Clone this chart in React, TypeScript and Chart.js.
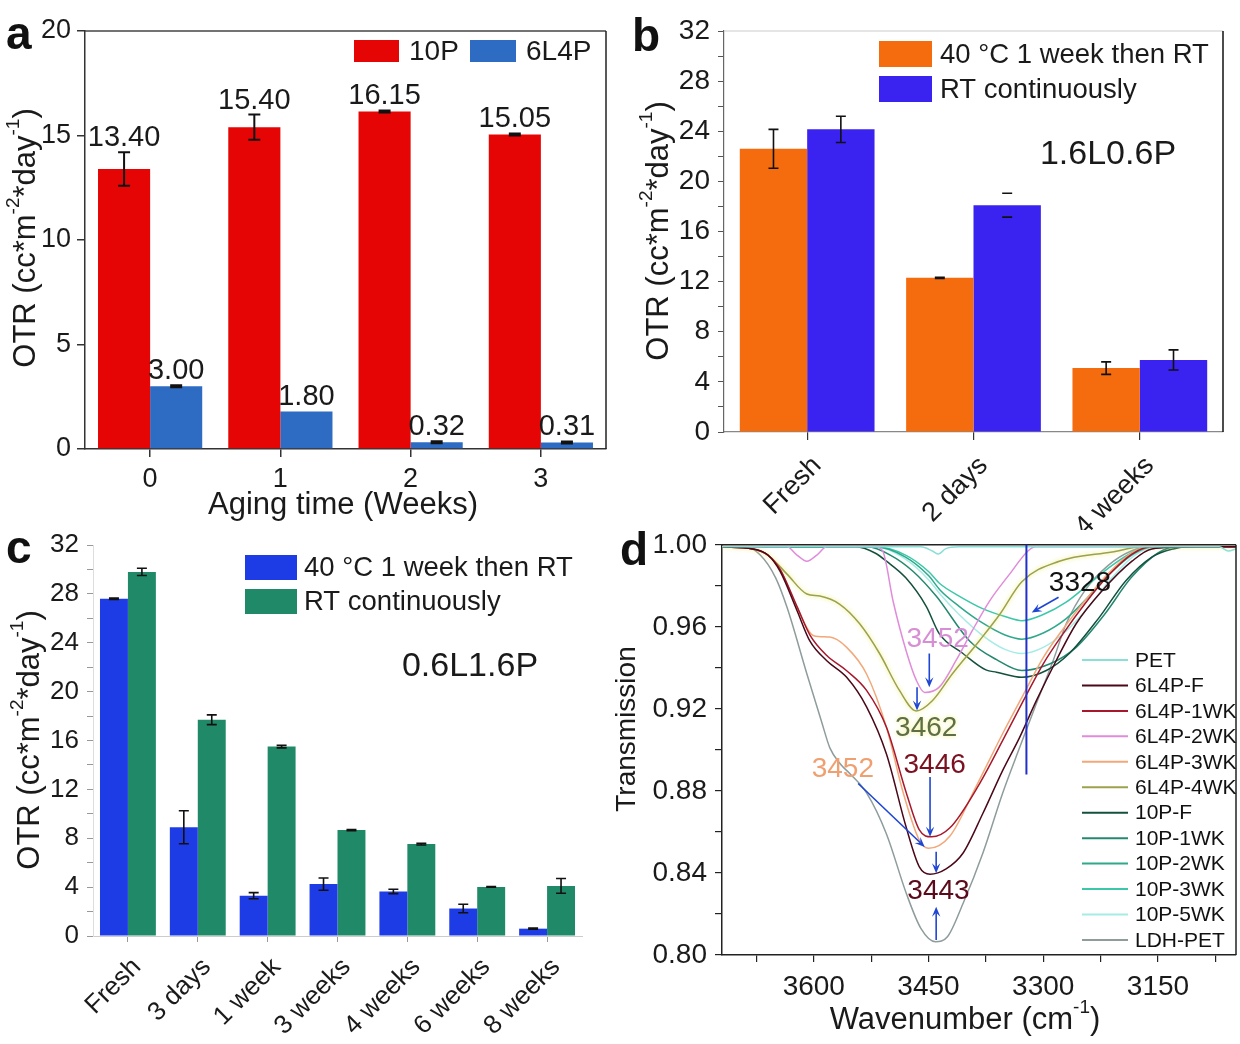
import React, { useEffect, useRef } from 'react';
import { Chart, registerables } from 'chart.js';
Chart.register(...registerables);

const FONT = "'Liberation Sans', Arial, Helvetica, sans-serif";
Chart.defaults.font.family = FONT;

// ---------- Panel a ----------
const A_CATS = ['0', '1', '2', '3'];
const A_10P = [13.4, 15.4, 16.15, 15.05];
const A_10P_ERR = [0.8, 0.6, 0.05, 0.05];
const A_6L4P = [3.0, 1.8, 0.32, 0.31];
const A_6L4P_ERR = [0.05, 0, 0.05, 0.05];

// ---------- Panel b ----------
const B_CATS = ['Fresh', '2 days', '4 weeks'];
const B_40C = [22.6, 12.3, 5.1];
const B_40C_ERR = [1.55, 0.05, 0.5];
const B_RT = [24.15, 18.1, 5.75];
const B_RT_ERR = [1.05, 0.95, 0.8];

// ---------- Panel c ----------
const C_CATS = ['Fresh', '3 days', '1 week', '3 weeks', '4 weeks', '6 weeks', '8 weeks'];
const C_40C = [27.6, 8.9, 3.3, 4.25, 3.65, 2.25, 0.6];
const C_40C_ERR = [0.05, 1.35, 0.25, 0.5, 0.18, 0.35, 0.05];
const C_RT = [29.8, 17.7, 15.5, 8.67, 7.52, 4.02, 4.1];
const C_RT_ERR = [0.3, 0.4, 0.1, 0.05, 0.07, 0.03, 0.6];

// ---------- Panel d (FTIR spectra) ----------
const D_XTICKS = [3675, 3600, 3525, 3450, 3375, 3300, 3225, 3150, 3075];
const D_YTICKS = [0.8, 0.82, 0.84, 0.86, 0.88, 0.9, 0.92, 0.94, 0.96, 0.98, 1.0];

const D_PET_WN = [3720, 3600, 3500, 3460, 3445, 3437, 3428, 3410, 3300, 3150, 3070, 3058, 3048];
const D_PET_T = [0.999, 0.999, 0.999, 0.999, 0.997, 0.9955, 0.998, 0.999, 0.999, 0.999, 0.999, 0.997, 0.998];

const D_6F_WN = [3720, 3680, 3660, 3644, 3622, 3605, 3583, 3557, 3531, 3505, 3479, 3462, 3448, 3427, 3405, 3379, 3353, 3331, 3309, 3283, 3257, 3223, 3184, 3158, 3100, 3048];
const D_6F_T = [0.999, 0.998, 0.995, 0.987, 0.968, 0.953, 0.9435, 0.9354, 0.921, 0.898, 0.862, 0.843, 0.8394, 0.842, 0.8496, 0.869, 0.89, 0.906, 0.924, 0.9436, 0.9615, 0.9776, 0.992, 0.998, 0.999, 0.999];

const D_61_WN = [3720, 3680, 3660, 3644, 3622, 3605, 3583, 3557, 3531, 3505, 3479, 3462, 3446, 3422, 3383, 3353, 3326, 3300, 3274, 3245, 3215, 3184, 3158, 3100, 3048];
const D_61_T = [0.999, 0.998, 0.995, 0.988, 0.97, 0.956, 0.946, 0.9386, 0.929, 0.911, 0.879, 0.861, 0.8576, 0.862, 0.8837, 0.9046, 0.924, 0.942, 0.9567, 0.9715, 0.985, 0.9955, 0.999, 0.999, 0.999];

const D_62_WN = [3720, 3660, 3635, 3622, 3609, 3596, 3583, 3560, 3520, 3510, 3496, 3479, 3466, 3455, 3436, 3414, 3393, 3370, 3344, 3320, 3310, 3250, 3100, 3048];
const D_62_T = [0.999, 0.999, 0.999, 0.995, 0.992, 0.995, 0.999, 0.999, 0.999, 0.997, 0.972, 0.948, 0.934, 0.928, 0.9306, 0.9436, 0.958, 0.9727, 0.9857, 0.997, 0.999, 0.999, 0.999, 0.999];

const D_63_WN = [3720, 3680, 3660, 3644, 3622, 3600, 3579, 3557, 3531, 3505, 3483, 3462, 3450, 3422, 3388, 3353, 3326, 3300, 3274, 3245, 3215, 3184, 3158, 3100, 3048];
const D_63_T = [0.999, 0.998, 0.995, 0.988, 0.9695, 0.9557, 0.955, 0.95, 0.937, 0.911, 0.879, 0.856, 0.852, 0.858, 0.882, 0.908, 0.927, 0.945, 0.959, 0.973, 0.986, 0.996, 0.999, 0.999, 0.999];

const D_64_WN = [3720, 3680, 3660, 3635, 3609, 3592, 3566, 3540, 3514, 3488, 3466, 3445, 3419, 3384, 3357, 3328, 3279, 3210, 3170, 3100, 3048];
const D_64_T = [0.999, 0.998, 0.995, 0.9857, 0.976, 0.975, 0.971, 0.9615, 0.947, 0.929, 0.919, 0.924, 0.937, 0.953, 0.966, 0.982, 0.992, 0.9965, 0.999, 0.999, 0.999];

const D_10F_WN = [3720, 3545, 3520, 3505, 3480, 3453, 3436, 3405, 3375, 3361, 3328, 3296, 3266, 3227, 3192, 3158, 3130, 3110, 3048];
const D_10F_T = [0.999, 0.999, 0.996, 0.992, 0.984, 0.97, 0.9567, 0.947, 0.939, 0.9379, 0.9354, 0.9387, 0.947, 0.9645, 0.9825, 0.994, 0.998, 0.999, 0.999];

const D_101_WN = [3720, 3530, 3500, 3470, 3440, 3396, 3361, 3328, 3291, 3257, 3220, 3185, 3150, 3125, 3048];
const D_101_T = [0.999, 0.999, 0.995, 0.987, 0.975, 0.953, 0.944, 0.9387, 0.942, 0.95, 0.966, 0.984, 0.996, 0.999, 0.999];

const D_102_WN = [3720, 3520, 3480, 3450, 3435, 3410, 3380, 3350, 3328, 3300, 3270, 3240, 3210, 3180, 3155, 3048];
const D_102_T = [0.999, 0.999, 0.994, 0.985, 0.978, 0.97, 0.962, 0.956, 0.954, 0.957, 0.964, 0.975, 0.987, 0.996, 0.999, 0.999];

const D_103_WN = [3720, 3520, 3480, 3450, 3435, 3410, 3380, 3350, 3328, 3300, 3270, 3240, 3210, 3180, 3160, 3048];
const D_103_T = [0.999, 0.999, 0.995, 0.987, 0.981, 0.975, 0.969, 0.965, 0.963, 0.966, 0.972, 0.981, 0.99, 0.997, 0.999, 0.999];

const D_105_WN = [3720, 3520, 3480, 3450, 3435, 3410, 3380, 3350, 3328, 3300, 3270, 3240, 3210, 3180, 3150, 3048];
const D_105_T = [0.999, 0.999, 0.993, 0.983, 0.976, 0.966, 0.956, 0.949, 0.947, 0.95, 0.958, 0.97, 0.984, 0.995, 0.999, 0.999];

const D_LDH_WN = [3720, 3690, 3670, 3650, 3635, 3609, 3590, 3579, 3565, 3553, 3531, 3505, 3479, 3460, 3441, 3425, 3405, 3379, 3353, 3331, 3309, 3287, 3270, 3245, 3215, 3185, 3160, 3100, 3048];
const D_LDH_T = [0.999, 0.999, 0.995, 0.984, 0.9695, 0.937, 0.914, 0.901, 0.893, 0.8885, 0.879, 0.859, 0.83, 0.813, 0.8065, 0.809, 0.825, 0.8496, 0.879, 0.901, 0.9226, 0.9436, 0.9615, 0.978, 0.99, 0.997, 0.999, 0.999, 0.999];

const D_LABELS = ['PET', '6L4P-F', '6L4P-1WK', '6L4P-2WK', '6L4P-3WK', '6L4P-4WK', '10P-F', '10P-1WK', '10P-2WK', '10P-3WK', '10P-5WK', 'LDH-PET'];
const D_WNS = [D_PET_WN, D_6F_WN, D_61_WN, D_62_WN, D_63_WN, D_64_WN, D_10F_WN, D_101_WN, D_102_WN, D_103_WN, D_105_WN, D_LDH_WN];
const D_TS = [D_PET_T, D_6F_T, D_61_T, D_62_T, D_63_T, D_64_T, D_10F_T, D_101_T, D_102_T, D_103_T, D_105_T, D_LDH_T];
const D_COLORS = ['#8ADFD6', '#4A0818', '#A8182C', '#E08CDA', '#F2A878', '#9CA24C', '#14503E', '#248870', '#2FA88C', '#3CC8A8', '#A6ECE6', '#8E9C9C'];

// ---------- helpers ----------
type Seg = { t: string; sup?: boolean };
const OTR_TITLE: Seg[] = [{ t: 'OTR (cc*m' }, { t: '-2', sup: true }, { t: '*day' }, { t: '-1', sup: true }, { t: ')' }];

function drawRich(ctx: CanvasRenderingContext2D, segs: Seg[], cx: number, cy: number, size: number, rotate: boolean, color = '#1a1a1a') {
  ctx.save();
  const main = `${size}px ${FONT}`;
  const small = `${Math.round(size * 0.62)}px ${FONT}`;
  let w = 0;
  for (const s of segs) {
    ctx.font = s.sup ? small : main;
    w += ctx.measureText(s.t).width;
  }
  ctx.translate(cx, cy);
  if (rotate) ctx.rotate(-Math.PI / 2);
  ctx.fillStyle = color;
  ctx.textBaseline = 'middle';
  ctx.textAlign = 'left';
  let x = -w / 2;
  for (const s of segs) {
    ctx.font = s.sup ? small : main;
    ctx.fillText(s.t, x, s.sup ? -size * 0.4 : 0);
    x += ctx.measureText(s.t).width;
  }
  ctx.restore();
}

function drawText(ctx: CanvasRenderingContext2D, t: string, x: number, y: number, font: string, color = '#1a1a1a', align: CanvasTextAlign = 'left', base: CanvasTextBaseline = 'middle') {
  ctx.save();
  ctx.font = font;
  ctx.fillStyle = color;
  ctx.textAlign = align;
  ctx.textBaseline = base;
  ctx.fillText(t, x, y);
  ctx.restore();
}

// capsOnly: list of [datasetIndex, pointIndex] whose error bar shows caps without a stem
function drawErrBars(chart: any, errs: number[][], cap: number, lw: number, capsOnly: number[][] = [], color = '#111') {
  const ctx = chart.ctx;
  const ys = chart.scales.y;
  ctx.save();
  ctx.strokeStyle = color;
  ctx.lineWidth = lw;
  errs.forEach((err, di) => {
    const meta = chart.getDatasetMeta(di);
    const data = chart.data.datasets[di].data as number[];
    meta.data.forEach((el: any, j: number) => {
      const e = err[j];
      if (!e) return;
      const x = el.x;
      const t = ys.getPixelForValue(data[j] + e);
      const b = ys.getPixelForValue(data[j] - e);
      const stem = !capsOnly.some((p) => p[0] === di && p[1] === j);
      ctx.beginPath();
      if (stem) {
        ctx.moveTo(x, t);
        ctx.lineTo(x, b);
      }
      ctx.moveTo(x - cap / 2, t);
      ctx.lineTo(x + cap / 2, t);
      ctx.moveTo(x - cap / 2, b);
      ctx.lineTo(x + cap / 2, b);
      ctx.stroke();
    });
  });
  ctx.restore();
}

function line(ctx: CanvasRenderingContext2D, x1: number, y1: number, x2: number, y2: number, color: string, lw: number) {
  ctx.save();
  ctx.strokeStyle = color;
  ctx.lineWidth = lw;
  ctx.beginPath();
  ctx.moveTo(x1, y1);
  ctx.lineTo(x2, y2);
  ctx.stroke();
  ctx.restore();
}

function arrow(ctx: CanvasRenderingContext2D, x1: number, y1: number, x2: number, y2: number, color: string, lw = 1.6, head = 10) {
  const a = Math.atan2(y2 - y1, x2 - x1);
  const c = Math.cos(a), s = Math.sin(a);
  ctx.save();
  ctx.strokeStyle = color;
  ctx.fillStyle = color;
  ctx.lineWidth = lw;
  ctx.beginPath();
  ctx.moveTo(x1, y1);
  ctx.lineTo(x2 - c * head * 0.6, y2 - s * head * 0.6);
  ctx.stroke();
  ctx.beginPath();
  ctx.moveTo(x2, y2);
  ctx.lineTo(x2 - head * c + head * 0.42 * s, y2 - head * s - head * 0.42 * c);
  ctx.lineTo(x2 - head * 0.6 * c, y2 - head * 0.6 * s);
  ctx.lineTo(x2 - head * c - head * 0.42 * s, y2 - head * s + head * 0.42 * c);
  ctx.closePath();
  ctx.fill();
  ctx.restore();
}

function ChartBox({ left, top, width, height, make }: { left: number; top: number; width: number; height: number; make: () => any }) {
  const ref = useRef<HTMLCanvasElement>(null);
  useEffect(() => {
    const chart = new Chart(ref.current as HTMLCanvasElement, make());
    return () => chart.destroy();
  }, []);
  return (
    <div style={{ position: 'absolute', left, top, width, height }}>
      <canvas ref={ref} width={width} height={height} style={{ width, height, display: 'block' }} />
    </div>
  );
}

const tickFont = (size: number) => ({ size, family: FONT });

// ---------- Panel a config ----------
function makeA() {
  return {
    type: 'bar',
    data: {
      labels: A_CATS,
      datasets: [
        { label: '10P', data: A_10P, backgroundColor: '#E50505', borderWidth: 0 },
        { label: '6L4P', data: A_6L4P, backgroundColor: '#2E6BC2', borderWidth: 0 },
      ],
    },
    options: {
      responsive: false,
      animation: false,
      layout: { padding: { left: 0, top: 31, right: 14, bottom: 0 } },
      datasets: { bar: { categoryPercentage: 0.8, barPercentage: 1.0 } },
      plugins: { legend: { display: false }, tooltip: { enabled: false } },
      scales: {
        x: {
          grid: { drawOnChartArea: false, offset: false, tickLength: 8, color: '#333', lineWidth: 1.5 },
          border: { color: '#333', width: 1.5 },
          ticks: { font: tickFont(27), color: '#1a1a1a', padding: 6 },
          afterFit: (s: any) => { s.height = 81; },
        },
        y: {
          min: 0, max: 20,
          ticks: { stepSize: 5, font: tickFont(27), color: '#1a1a1a', padding: 6 },
          grid: { drawOnChartArea: false, tickLength: 8, color: '#333', lineWidth: 1.5 },
          border: { color: '#333', width: 1.5 },
          afterFit: (s: any) => { s.width = 85; },
        },
      },
    },
    plugins: [
      {
        id: 'decorA',
        afterDraw(chart: any) {
          const ctx = chart.ctx;
          const ca = chart.chartArea;
          line(ctx, ca.left, ca.top, ca.right, ca.top, '#444', 1.5);
          line(ctx, ca.right, ca.top, ca.right, ca.bottom, '#222', 1.5);
          const errs = [A_10P_ERR, A_6L4P_ERR];
          drawErrBars(chart, errs, 12, 2);
          const ys = chart.scales.y;
          [A_10P, A_6L4P].forEach((vals, di) => {
            const meta = chart.getDatasetMeta(di);
            meta.data.forEach((el: any, j: number) => {
              const yTop = ys.getPixelForValue(vals[j] + errs[di][j]);
              drawText(ctx, vals[j].toFixed(2), el.x, yTop - 6, `29px ${FONT}`, '#1a1a1a', 'center', 'alphabetic');
            });
          });
          // legend
          ctx.fillStyle = '#E50505';
          ctx.fillRect(354, 40, 45, 22);
          drawText(ctx, '10P', 409, 52, `28px ${FONT}`);
          ctx.fillStyle = '#2E6BC2';
          ctx.fillRect(470, 40, 46, 22);
          drawText(ctx, '6L4P', 526, 52, `28px ${FONT}`);
          drawRich(ctx, OTR_TITLE, 26, 238, 31, true);
          drawRich(ctx, [{ t: 'Aging time (Weeks)' }], 343, 505, 31, false);
          drawText(ctx, 'a', 6, 49, `bold 46px ${FONT}`, '#111', 'left', 'alphabetic');
        },
      },
    ],
  };
}

// ---------- Panel b config ----------
function makeB() {
  return {
    type: 'bar',
    data: {
      labels: B_CATS,
      datasets: [
        { label: '40 °C 1 week then RT', data: B_40C, backgroundColor: '#F46C0E', borderWidth: 0 },
        { label: 'RT continuously', data: B_RT, backgroundColor: '#3A22F0', borderWidth: 0 },
      ],
    },
    options: {
      responsive: false,
      animation: false,
      layout: { padding: { left: 0, top: 31, right: 17, bottom: 0 } },
      datasets: { bar: { categoryPercentage: 0.81, barPercentage: 1.0 } },
      plugins: { legend: { display: false }, tooltip: { enabled: false } },
      scales: {
        x: {
          grid: { drawOnChartArea: false, offset: false, tickLength: 8, color: '#333', lineWidth: 1.2 },
          border: { color: '#888', width: 1.2 },
          ticks: { font: tickFont(27), color: '#1a1a1a', padding: 10, minRotation: 45, maxRotation: 45, labelOffset: 10 },
          afterFit: (s: any) => { s.height = 98; },
        },
        y: {
          min: 0, max: 32,
          ticks: { stepSize: 2, autoSkip: false, font: tickFont(28), color: '#1a1a1a', padding: 8, callback: (v: any) => (v % 4 === 0 ? String(v) : '') },
          grid: { drawOnChartArea: false, tickLength: 6, color: '#555', lineWidth: 1 },
          border: { color: '#666', width: 1.2 },
          afterFit: (s: any) => { s.width = 104; },
        },
      },
    },
    plugins: [
      {
        id: 'decorB',
        afterDraw(chart: any) {
          const ctx = chart.ctx;
          const ca = chart.chartArea;
          line(ctx, ca.left, ca.top, ca.right, ca.top, '#ccc', 1.2);
          line(ctx, ca.right, ca.top, ca.right, ca.bottom, '#111', 1.5);
          drawErrBars(chart, [B_40C_ERR, B_RT_ERR], 10, 1.6, [[1, 1]]);
          ctx.fillStyle = '#F46C0E';
          ctx.fillRect(259, 41, 53, 26);
          drawText(ctx, '40 °C 1 week then RT', 320, 55, `27.5px ${FONT}`);
          ctx.fillStyle = '#3A22F0';
          ctx.fillRect(259, 76, 53, 26);
          drawText(ctx, 'RT continuously', 320, 90, `27.5px ${FONT}`);
          drawText(ctx, '1.6L0.6P', 488, 155, `34px ${FONT}`, '#1a1a1a', 'center');
          drawRich(ctx, OTR_TITLE, 39, 231, 31, true);
          drawText(ctx, 'b', 12, 51, `bold 46px ${FONT}`, '#111', 'left', 'alphabetic');
        },
      },
    ],
  };
}

// ---------- Panel c config ----------
function makeC() {
  return {
    type: 'bar',
    data: {
      labels: C_CATS,
      datasets: [
        { label: '40 °C 1 week then RT', data: C_40C, backgroundColor: '#1E3CE6', borderWidth: 0 },
        { label: 'RT continuously', data: C_RT, backgroundColor: '#208A68', borderWidth: 0 },
      ],
    },
    options: {
      responsive: false,
      animation: false,
      layout: { padding: { left: 0, top: 25, right: 38, bottom: 0 } },
      datasets: { bar: { categoryPercentage: 0.8, barPercentage: 1.0 } },
      plugins: { legend: { display: false }, tooltip: { enabled: false } },
      scales: {
        x: {
          grid: { drawOnChartArea: false, offset: false, tickLength: 6, color: '#999', lineWidth: 1 },
          border: { color: '#ccc', width: 1 },
          ticks: { font: tickFont(26), color: '#1a1a1a', padding: 10, minRotation: 45, maxRotation: 45, labelOffset: 9 },
          afterFit: (s: any) => { s.height = 108; },
        },
        y: {
          min: 0, max: 32,
          ticks: { stepSize: 2, autoSkip: false, font: tickFont(26), color: '#1a1a1a', padding: 8, callback: (v: any) => (v % 4 === 0 ? String(v) : '') },
          grid: { drawOnChartArea: false, tickLength: 6, color: '#999', lineWidth: 1 },
          border: { color: '#ddd', width: 1 },
          afterFit: (s: any) => { s.width = 93; },
        },
      },
    },
    plugins: [
      {
        id: 'decorC',
        afterDraw(chart: any) {
          const ctx = chart.ctx;
          drawErrBars(chart, [C_40C_ERR, C_RT_ERR], 10, 1.6);
          ctx.fillStyle = '#1E3CE6';
          ctx.fillRect(245, 35, 52, 25);
          drawText(ctx, '40 °C 1 week then RT', 304, 48, `27.5px ${FONT}`);
          ctx.fillStyle = '#208A68';
          ctx.fillRect(245, 69, 52, 25);
          drawText(ctx, 'RT continuously', 304, 82, `27.5px ${FONT}`);
          drawText(ctx, '0.6L1.6P', 470, 147, `34px ${FONT}`, '#1a1a1a', 'center');
          drawRich(ctx, OTR_TITLE, 30, 220, 31, true);
          drawText(ctx, 'c', 6, 43, `bold 46px ${FONT}`, '#111', 'left', 'alphabetic');
        },
      },
    ],
  };
}

// ---------- Panel d config ----------
function makeD() {
  const datasets = D_LABELS.map((label, i) => ({
    label,
    data: D_WNS[i].map((w, k) => ({ x: w, y: D_TS[i][k] })),
    borderColor: D_COLORS[i],
    backgroundColor: D_COLORS[i],
    borderWidth: 1.5,
    pointRadius: 0,
    fill: false,
    cubicInterpolationMode: 'monotone',
  }));
  return {
    type: 'line',
    data: { datasets },
    options: {
      responsive: false,
      animation: false,
      layout: { padding: { left: 0, top: 24, right: 4, bottom: 0 } },
      plugins: { legend: { display: false }, tooltip: { enabled: false } },
      scales: {
        x: {
          type: 'linear',
          reverse: true,
          min: 3048,
          max: 3720,
          afterBuildTicks: (s: any) => { s.ticks = D_XTICKS.map((v) => ({ value: v })); },
          ticks: { autoSkip: false, maxRotation: 0, font: tickFont(28), color: '#1a1a1a', padding: 8, callback: (v: any) => (v % 150 === 0 ? String(v) : '') },
          grid: { drawOnChartArea: false, tickLength: 7, color: '#222', lineWidth: 1.2 },
          border: { color: '#222', width: 1.5 },
          afterFit: (s: any) => { s.height = 89; },
        },
        y: {
          min: 0.8,
          max: 1.0,
          afterBuildTicks: (s: any) => { s.ticks = D_YTICKS.map((v) => ({ value: v })); },
          ticks: { autoSkip: false, font: tickFont(28), color: '#1a1a1a', padding: 8, callback: (v: any, i: number) => (i % 2 === 0 ? Number(v).toFixed(2) : '') },
          grid: { drawOnChartArea: false, tickLength: 7, color: '#222', lineWidth: 1.2 },
          border: { color: '#222', width: 1.5 },
          afterFit: (s: any) => { s.width = 122; },
        },
      },
    },
    plugins: [
      {
        id: 'glowD',
        beforeDatasetDraw(chart: any, args: any) {
          if (args.index === 5) {
            chart.ctx.save();
            chart.ctx.shadowColor = 'rgba(235,235,110,0.95)';
            chart.ctx.shadowBlur = 4;
          }
        },
        afterDatasetDraw(chart: any, args: any) {
          if (args.index === 5) chart.ctx.restore();
        },
      },
      {
        id: 'decorD',
        afterDraw(chart: any) {
          const ctx = chart.ctx;
          const ca = chart.chartArea;
          const xs = chart.scales.x;
          const ys = chart.scales.y;
          const X = (v: number) => xs.getPixelForValue(v);
          const Y = (v: number) => ys.getPixelForValue(v);
          line(ctx, ca.left, ca.top, ca.right, ca.top, '#222', 1.5);
          line(ctx, ca.right, ca.top, ca.right, ca.bottom, '#222', 1.5);
          // vertical marker line
          line(ctx, X(3322), Y(1.0), X(3322), Y(0.888), '#2030C8', 2);
          const blue = '#1E46D2';
          arrow(ctx, X(3449), Y(0.947), X(3449), Y(0.9306), blue);
          arrow(ctx, X(3465), Y(0.9306), X(3465), Y(0.9192), blue);
          arrow(ctx, X(3542), Y(0.8836), X(3455), Y(0.8527), blue);
          arrow(ctx, X(3448), Y(0.8868), X(3448), Y(0.8576), blue);
          arrow(ctx, X(3440), Y(0.8503), X(3440), Y(0.8398), blue);
          arrow(ctx, X(3440), Y(0.8073), X(3440), Y(0.8235), blue);
          arrow(ctx, X(3280), Y(0.9744), X(3315), Y(0.967), blue);
          const af = `28px ${FONT}`;
          drawText(ctx, '3452', X(3438), Y(0.9538), af, '#D68FD4', 'center');
          ctx.save();
          ctx.shadowColor = 'rgba(240,240,120,0.9)';
          ctx.shadowBlur = 4;
          drawText(ctx, '3462', X(3453), Y(0.9105), af, '#5E6E46', 'center');
          ctx.restore();
          drawText(ctx, '3452', X(3562), Y(0.8905), af, '#F0A070', 'center');
          drawText(ctx, '3446', X(3442), Y(0.8925), af, '#7A1020', 'center');
          drawText(ctx, '3443', X(3437), Y(0.8311), af, '#5A0A1A', 'center');
          drawText(ctx, '3328', X(3252), Y(0.9813), af, '#111', 'center');
          // legend
          const lx = 482, tx = 535, y0 = 140, dy = 25.45;
          D_LABELS.forEach((lab, i) => {
            const yy = y0 + i * dy;
            line(ctx, lx, yy, lx + 46, yy, D_COLORS[i], 2);
            drawText(ctx, lab, tx, yy + 1, `21px ${FONT}`, '#111');
          });
          drawRich(ctx, [{ t: 'Transmission' }], 27, 209, 28, true);
          drawRich(ctx, [{ t: 'Wavenumber (cm' }, { t: '-1', sup: true }, { t: ')' }], 365, 500, 31, false);
          drawText(ctx, 'd', 20, 45, `bold 46px ${FONT}`, '#111', 'left', 'alphabetic');
        },
      },
    ],
  };
}

export default function App() {
  return (
    <div style={{ position: 'absolute', left: 0, top: 0, width: 1240, height: 1044, background: '#fff', overflow: 'hidden' }}>
      <ChartBox left={0} top={0} width={620} height={530} make={makeA} />
      <ChartBox left={620} top={0} width={620} height={530} make={makeB} />
      <ChartBox left={0} top={520} width={620} height={524} make={makeC} />
      <ChartBox left={600} top={520} width={640} height={524} make={makeD} />
    </div>
  );
}
